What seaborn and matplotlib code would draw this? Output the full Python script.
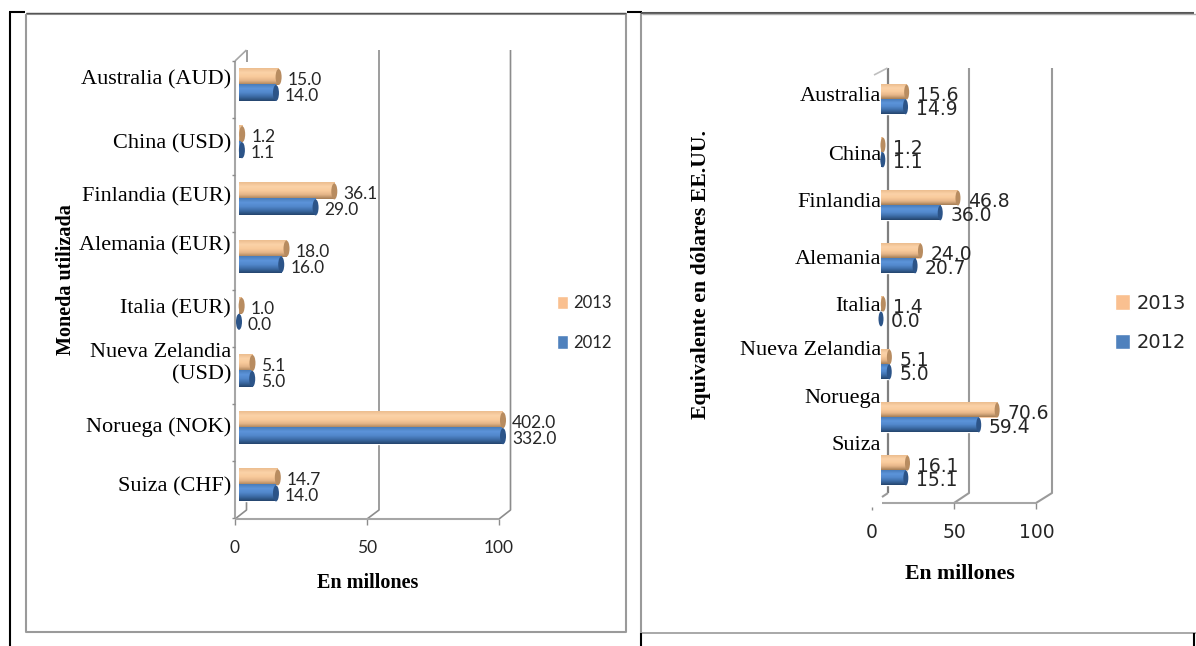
#!/usr/bin/env python
# coding: utf-8

import matplotlib as mpl
mpl.use("Agg")
import matplotlib.pyplot as plt
import pandas as pd
import seaborn as sns
from matplotlib.colors import LinearSegmentedColormap
from matplotlib.lines import Line2D
from matplotlib.patches import Ellipse
from matplotlib.transforms import ScaledTranslation

W, H = 1196, 646

years = ["2013", "2012"]
x_ticks = [0, 50, 100]

# left chart: local currency
left_countries = [
    "Australia (AUD)",
    "China (USD)",
    "Finlandia (EUR)",
    "Alemania (EUR)",
    "Italia (EUR)",
    "Nueva Zelandia\n(USD)",
    "Noruega (NOK)",
    "Suiza (CHF)",
]
left_2013 = [15.0, 1.2, 36.1, 18.0, 1.0, 5.1, 402.0, 14.7]
left_2012 = [14.0, 1.1, 29.0, 16.0, 0.0, 5.0, 332.0, 14.0]

# right chart: US dollars
right_countries = [
    "Australia",
    "China",
    "Finlandia",
    "Alemania",
    "Italia",
    "Nueva Zelandia",
    "Noruega",
    "Suiza",
]
right_2013 = [15.6, 1.2, 46.8, 24.0, 1.4, 5.1, 70.6, 16.1]
right_2012 = [14.9, 1.1, 36.0, 20.7, 0.0, 5.0, 59.4, 15.1]

COLORS = {"2013": "#FAC090", "2012": "#4F81BD"}
GRADIENT = {
    "2013": ["#EDBE90", "#FBD2A8", "#F9CB9C", "#E5B588", "#A88058"],
    "2012": ["#4A7DBB", "#5C94DA", "#5288CC", "#3C6BA5", "#25466F"],
}
CAP = {"2013": "#B88C60", "2012": "#2C5488"}
GRID = "#8C8C8C"

sns.set_theme(style="white")
plt.rcParams["font.family"] = ["Liberation Serif", "DejaVu Sans"]

fig = plt.figure(figsize=(W / 100, H / 100), dpi=100, facecolor="white")

# pixel canvas behind the charts: frames and the fake 3d walls
bg = fig.add_axes([0, 0, 1, 1], zorder=0)
bg.set_xlim(0, W)
bg.set_ylim(H, 0)
bg.axis("off")


def seg(xs, ys, color=GRID, lw=1.2):
    bg.add_line(Line2D(xs, ys, color=color, lw=lw, solid_capstyle="butt"))


def add_panel(
    box, countries, v2013, v2012, nudges, cap_px, label_gap, tick_pad, xtick_shift,
    xtick_pad, value_font, value_size, tick_size, title_size, legend_at, legend_size,
    ylabel, ylabel_at, xlabel_at, legend_space, handle,
):
    left, top, width, height = box
    ax = fig.add_axes(
        [left / W, 1 - (top + height) / H, width / W, height / H], zorder=2
    )
    ax.patch.set_alpha(0)

    df = pd.DataFrame(
        {
            "pais": countries * 2,
            "valor": v2013 + v2012,
            "anio": ["2013"] * len(v2013) + ["2012"] * len(v2012),
        }
    )
    sns.barplot(
        data=df,
        y="pais",
        x="valor",
        hue="anio",
        hue_order=years,
        palette=COLORS,
        orient="h",
        width=0.56,
        gap=0,
        saturation=1,
        ax=ax,
    )
    ax.set_xlim(0, 100)
    ylim = ax.get_ylim()
    unit = 100 / width

    # cylinder look + data labels
    for year, container in zip(years, ax.containers):
        cmap = LinearSegmentedColormap.from_list(year, GRADIENT[year])
        for bar in container:
            val = bar.get_width()
            end = min(val, 100)
            y0, bh = bar.get_y(), bar.get_height()
            if end > 0:
                ax.imshow(
                    [[i / 24] for i in range(25)],
                    cmap=cmap,
                    vmin=0,
                    vmax=1,
                    aspect="auto",
                    extent=(0, end, y0 + bh, y0),
                    interpolation="bilinear",
                    zorder=2,
                )
            ax.add_patch(
                Ellipse(
                    (end, y0 + bh / 2),
                    cap_px * unit,
                    bh,
                    facecolor=CAP[year],
                    edgecolor="none",
                    clip_on=False,
                    zorder=3,
                )
            )
            ax.annotate(
                f"{val:.1f}",
                xy=(end, y0 + bh / 2),
                xytext=(label_gap, -3),
                textcoords="offset pixels",
                ha="left",
                va="center",
                color="#262626",
                family=value_font,
                fontsize=value_size,
                annotation_clip=False,
                zorder=5,
            )
    ax.set_xlim(0, 100)
    ax.set_ylim(ylim)

    sns.despine(ax=ax, left=True, bottom=True)
    ax.set_xticks(x_ticks)
    ax.tick_params(axis="x", length=0, pad=xtick_pad, labelsize=value_size)
    ax.tick_params(axis="y", length=0, pad=tick_pad, labelsize=tick_size, labelcolor="black")
    for lab in ax.get_xticklabels():
        lab.set_family(value_font)
        lab.set_color("#262626")
        lab.set_transform(
            lab.get_transform() + ScaledTranslation(xtick_shift / 100, 0, fig.dpi_scale_trans)
        )
    for lab, dy in zip(ax.get_yticklabels(), nudges):
        lab.set_transform(
            lab.get_transform() + ScaledTranslation(0, dy / 100, fig.dpi_scale_trans)
        )

    ax.set_xlabel("En millones", fontweight="bold", fontsize=title_size, color="black", va="center")
    ax.set_ylabel(ylabel, fontweight="bold", fontsize=title_size, color="black", va="center")
    ax.xaxis.set_label_coords(*xlabel_at, transform=bg.transData)
    ax.yaxis.set_label_coords(*ylabel_at, transform=bg.transData)

    handles, labels = ax.get_legend_handles_labels()
    ax.legend(
        handles,
        labels,
        loc="center left",
        bbox_to_anchor=legend_at,
        bbox_transform=bg.transData,
        frameon=False,
        borderpad=0,
        borderaxespad=0,
        handlelength=handle[0],
        handleheight=handle[1],
        handletextpad=0.35,
        labelspacing=legend_space,
        prop={"family": value_font, "size": legend_size},
        labelcolor="#262626",
    )
    return ax


# left chart
add_panel(
    box=(239, 56.4, 264, 457.6),
    countries=left_countries,
    v2013=left_2013,
    v2012=left_2012,
    nudges=[8, 1, 5, 13, 7, 11, 4, 1],
    cap_px=6,
    label_gap=9,
    tick_pad=5.8,
    xtick_shift=-4,
    xtick_pad=18.5,
    value_font="Lato",
    value_size=12.5,
    tick_size=16,
    title_size=14.5,
    legend_at=(557, 323),
    legend_size=12,
    ylabel="Moneda utilizada",
    ylabel_at=(66, 280),
    xlabel_at=(368, 583),
    legend_space=1.4,
    handle=(0.65, 0.85),
)

# right chart
add_panel(
    box=(881, 73, 164.5, 424),
    countries=right_countries,
    v2013=right_2013,
    v2012=right_2012,
    nudges=[5.5, 0, 5.5, 2, 7.5, 16.5, 22, 27.5],
    cap_px=5,
    label_gap=10,
    tick_pad=0,
    xtick_shift=-9,
    xtick_pad=18.5,
    value_font="DejaVu Sans",
    value_size=13.5,
    tick_size=16,
    title_size=15.7,
    legend_at=(1115, 323),
    legend_size=14,
    ylabel="Equivalente en dólares EE.UU.",
    ylabel_at=(701, 274.5),
    xlabel_at=(960, 574),
    legend_space=1.05,
    handle=(0.75, 0.85),
)

# walls, left chart: the zero wall only shows as stubs
seg([246.5, 246.5], [50, 62])
seg([246.5, 246.5, 235], [498, 510, 519])
for x_back, x_front in [(379, 367), (510.5, 499)]:
    seg([x_back, x_back, x_front], [50, 510, 519])
for x_front in [235, 367, 499]:
    seg([x_front, x_front], [519, 525], lw=1)
seg([235, 499], [519, 519], color="#A6A6A6", lw=1.5)
seg([235, 235], [61, 519], color="#A6A6A6", lw=1.5)
seg([235, 246.5], [61, 50], color="#A6A6A6")
for i in range(9):
    seg([232, 235], [61 + 57.14 * i] * 2, lw=1)

# walls, right chart
seg([888, 888], [68, 493], color="#7F7F7F", lw=1.6)
seg([888, 882], [493, 497], color="#9A9A9A", lw=1.5)
for x_back, x_front in [(969, 954), (1052, 1036)]:
    seg([x_back, x_back, x_front], [68, 493, 503], color="#9A9A9A", lw=1.5)
seg([882, 1036], [503, 503], color="#A6A6A6", lw=1.5)
seg([874, 887.5], [75, 68], color="#BFBFBF")
seg([954, 954], [503, 509], lw=1)
seg([1036, 1036], [503, 509], lw=1)
seg([872, 872], [507, 509.5], lw=1)

# table frame and chart borders
BLACK = "black"
EDGE = "#9A9A9A"
seg([9, 25], [12, 12], BLACK, 1.5)
seg([627, 642], [12, 12], BLACK, 1.5)
seg([10, 10], [12, 646], BLACK, 1.5)
seg([26, 26, 626, 626, 26], [14, 632, 632, 14, 14], EDGE, 1.5)
seg([26, 626], [12.5, 12.5], "#555555", 1)
seg([641, 641], [13, 633], EDGE, 1.5)
seg([641, 641], [633, 646], BLACK, 1.5)
seg([641, 1194], [12.5, 12.5], "#555555", 1.5)
seg([642, 1196], [14, 14], "#B0B0B0", 1)
seg([642, 1196], [632.5, 632.5], "#9A9A9A", 1.2)
seg([1194, 1194], [633, 646], BLACK, 1.5)

fig.savefig("out.png", dpi=100)
